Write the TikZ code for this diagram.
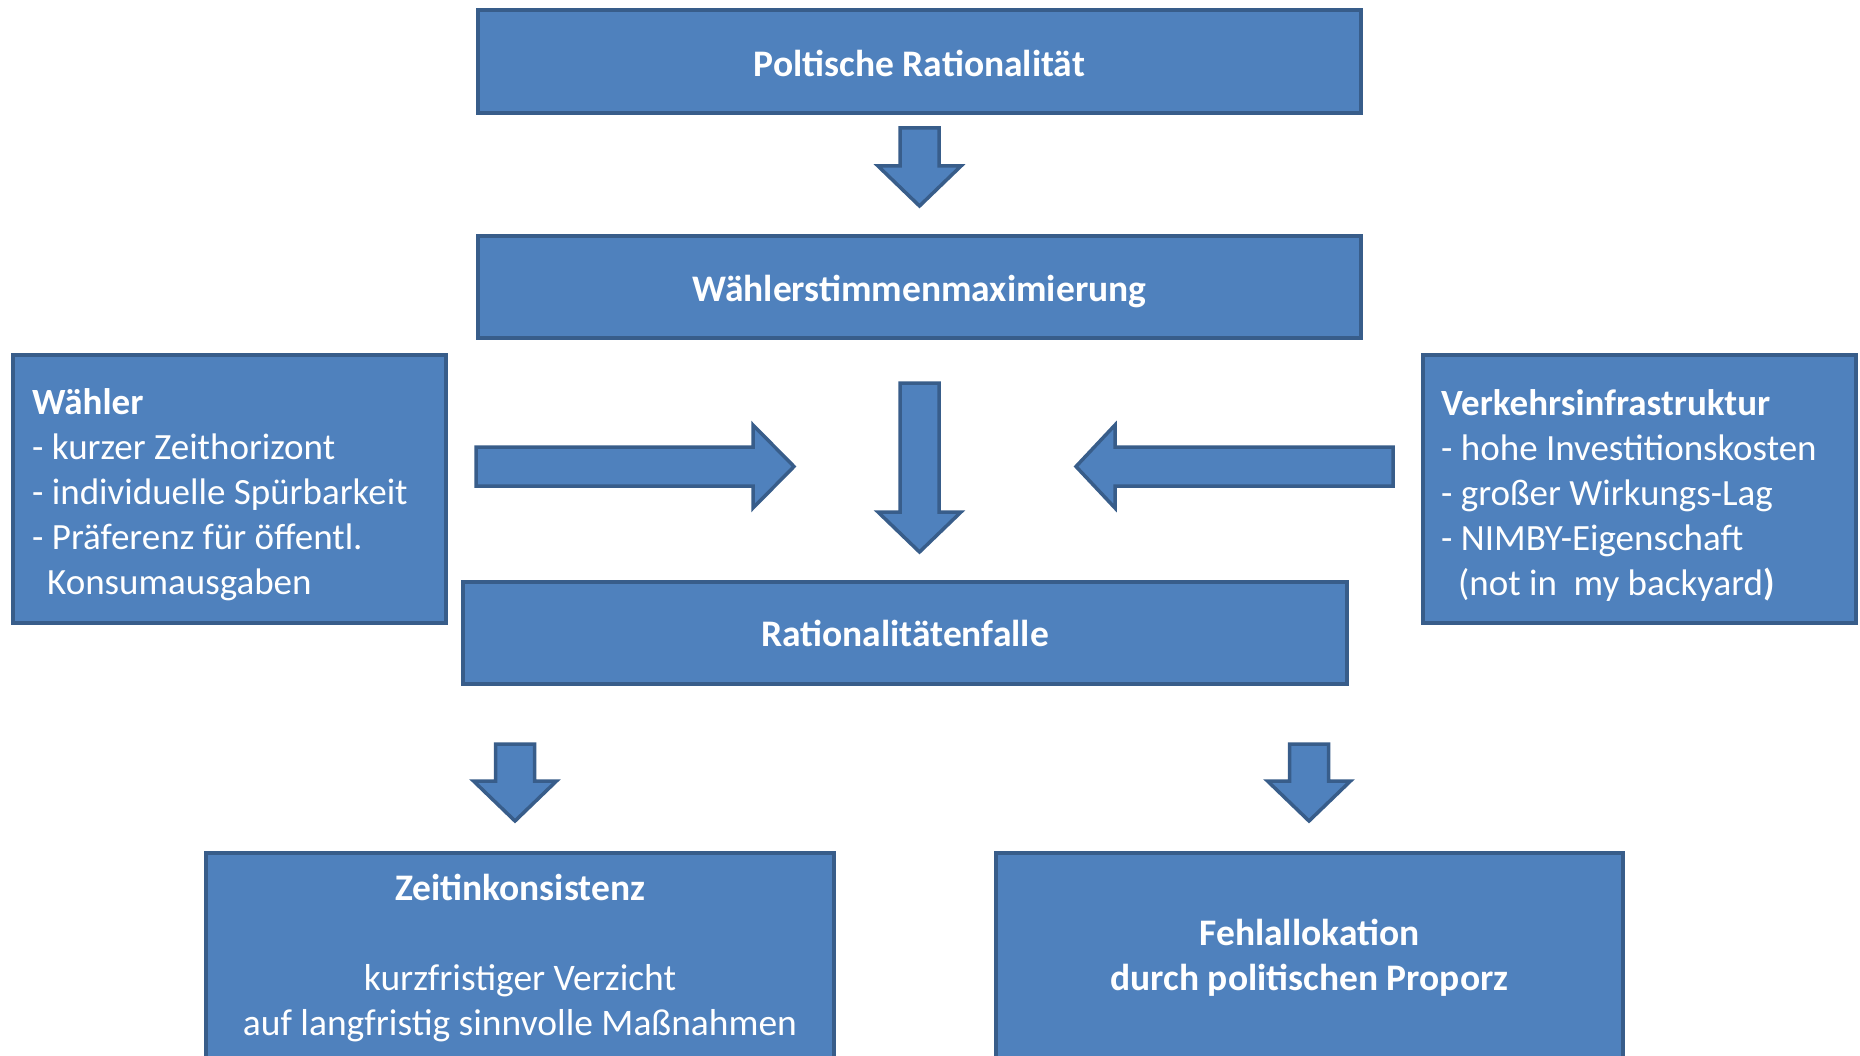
\documentclass[tikz,border=0pt]{standalone}
\usepackage{fontspec}
\setmainfont{Carlito}
\definecolor{boxfill}{HTML}{4F81BD}
\definecolor{boxline}{HTML}{385D8A}
\tikzset{
  blk/.style={draw=boxline, fill=boxfill, line width=4pt, text=white,
    font=\fontsize{37.5}{45}\selectfont, inner sep=0pt},
  ttl/.style={text=white, font=\fontsize{37.5}{45}\selectfont\bfseries, inner sep=0pt,
    text height=27pt, text depth=9pt},
  sidetxt/.style={text=white, font=\fontsize{37}{45}\selectfont, inner sep=0pt, align=left},
  bottxt/.style={text=white, font=\fontsize{37.5}{45}\selectfont, inner sep=0pt, align=center},
  barrow/.style={draw=boxline, fill=boxfill, line width=3.5pt, line join=miter},
}
\newcommand\arrdown[4]{%
  \draw[barrow] (#1-19.5,#2) -- (#1+19.5,#2) -- (#1+19.5,#3) -- (#1+41.5,#3)
    -- (#1,#4) -- (#1-41.5,#3) -- (#1-19.5,#3) -- cycle;}
\newcommand\arrhoriz[4]{% cy, start, neck, tip
  \draw[barrow] (#2,#1-19.5) -- (#3,#1-19.5) -- (#3,#1-41.5) -- (#4,#1)
    -- (#3,#1+41.5) -- (#3,#1+19.5) -- (#2,#1+19.5) -- cycle;}
\begin{document}
\begin{tikzpicture}[x=1pt,y=-1pt]
\clip (0,0) rectangle (1860,1056);
\fill[white] (0,0) rectangle (1860,1056);

% main column boxes
\node[blk, minimum width=883pt, minimum height=103pt] (pr) at (919.5,61.5) {};
\node[ttl] (prt) at (919.5,67.5) {Poltische Rationalität};
\node[blk, minimum width=883pt, minimum height=102pt] (wm) at (919.5,287) {};
\node[ttl] (wmt) at (919.5,293) {Wählerstimmenmaximierung};
\node[blk, minimum width=884pt, minimum height=102pt] (rf) at (905,633) {};
\node[ttl] (rft) at (905,637.5) {Rationalitätenfalle};

% side boxes
\node[blk, minimum width=433pt, minimum height=268pt] (wa) at (229.5,489) {};
\node[sidetxt, anchor=west] (wat) at (32,495)
  {\textbf{Wähler}\\
   - kurzer Zeithorizont\\
   - individuelle Spürbarkeit\\
   - Präferenz für öffentl.\\
   \hspace*{15pt}Konsumausgaben};
\node[blk, minimum width=433pt, minimum height=268pt] (vi) at (1639.5,489) {};
\node[sidetxt, anchor=west] (vit) at (1441,495)
  {\textbf{Verkehrsinfrastruktur}\\
   - hohe Investitionskosten\\
   - großer Wirkungs-Lag\\
   - NIMBY-Eigenschaft\\
   \hspace*{17pt}(not in\ \ my backyard\textbf{)}};

% bottom boxes
\node[blk, minimum width=628pt, minimum height=300pt, anchor=north] (zk) at (520,851) {};
\node[bottxt] (zkt) at (520,958)
  {\textbf{Zeitinkonsistenz}\\[45pt]
   kurzfristiger Verzicht\\
   auf langfristig sinnvolle Maßnahmen};
\node[blk, minimum width=627pt, minimum height=300pt, anchor=north] (fa) at (1309.5,851) {};
\node[bottxt, font=\fontsize{37.5}{45}\selectfont\bfseries] (fat) at (1309.5,958)
  {Fehlallokation\\
   durch politischen Proporz};

% block arrows
\arrdown{919.5}{128}{166}{206}
\arrdown{919.5}{383}{512}{552}
\arrdown{515}{744}{781}{821}
\arrdown{1309}{744}{781}{821}
\arrhoriz{466.5}{476}{753}{794}
\arrhoriz{466.5}{1393}{1115}{1076}
\end{tikzpicture}
\end{document}
